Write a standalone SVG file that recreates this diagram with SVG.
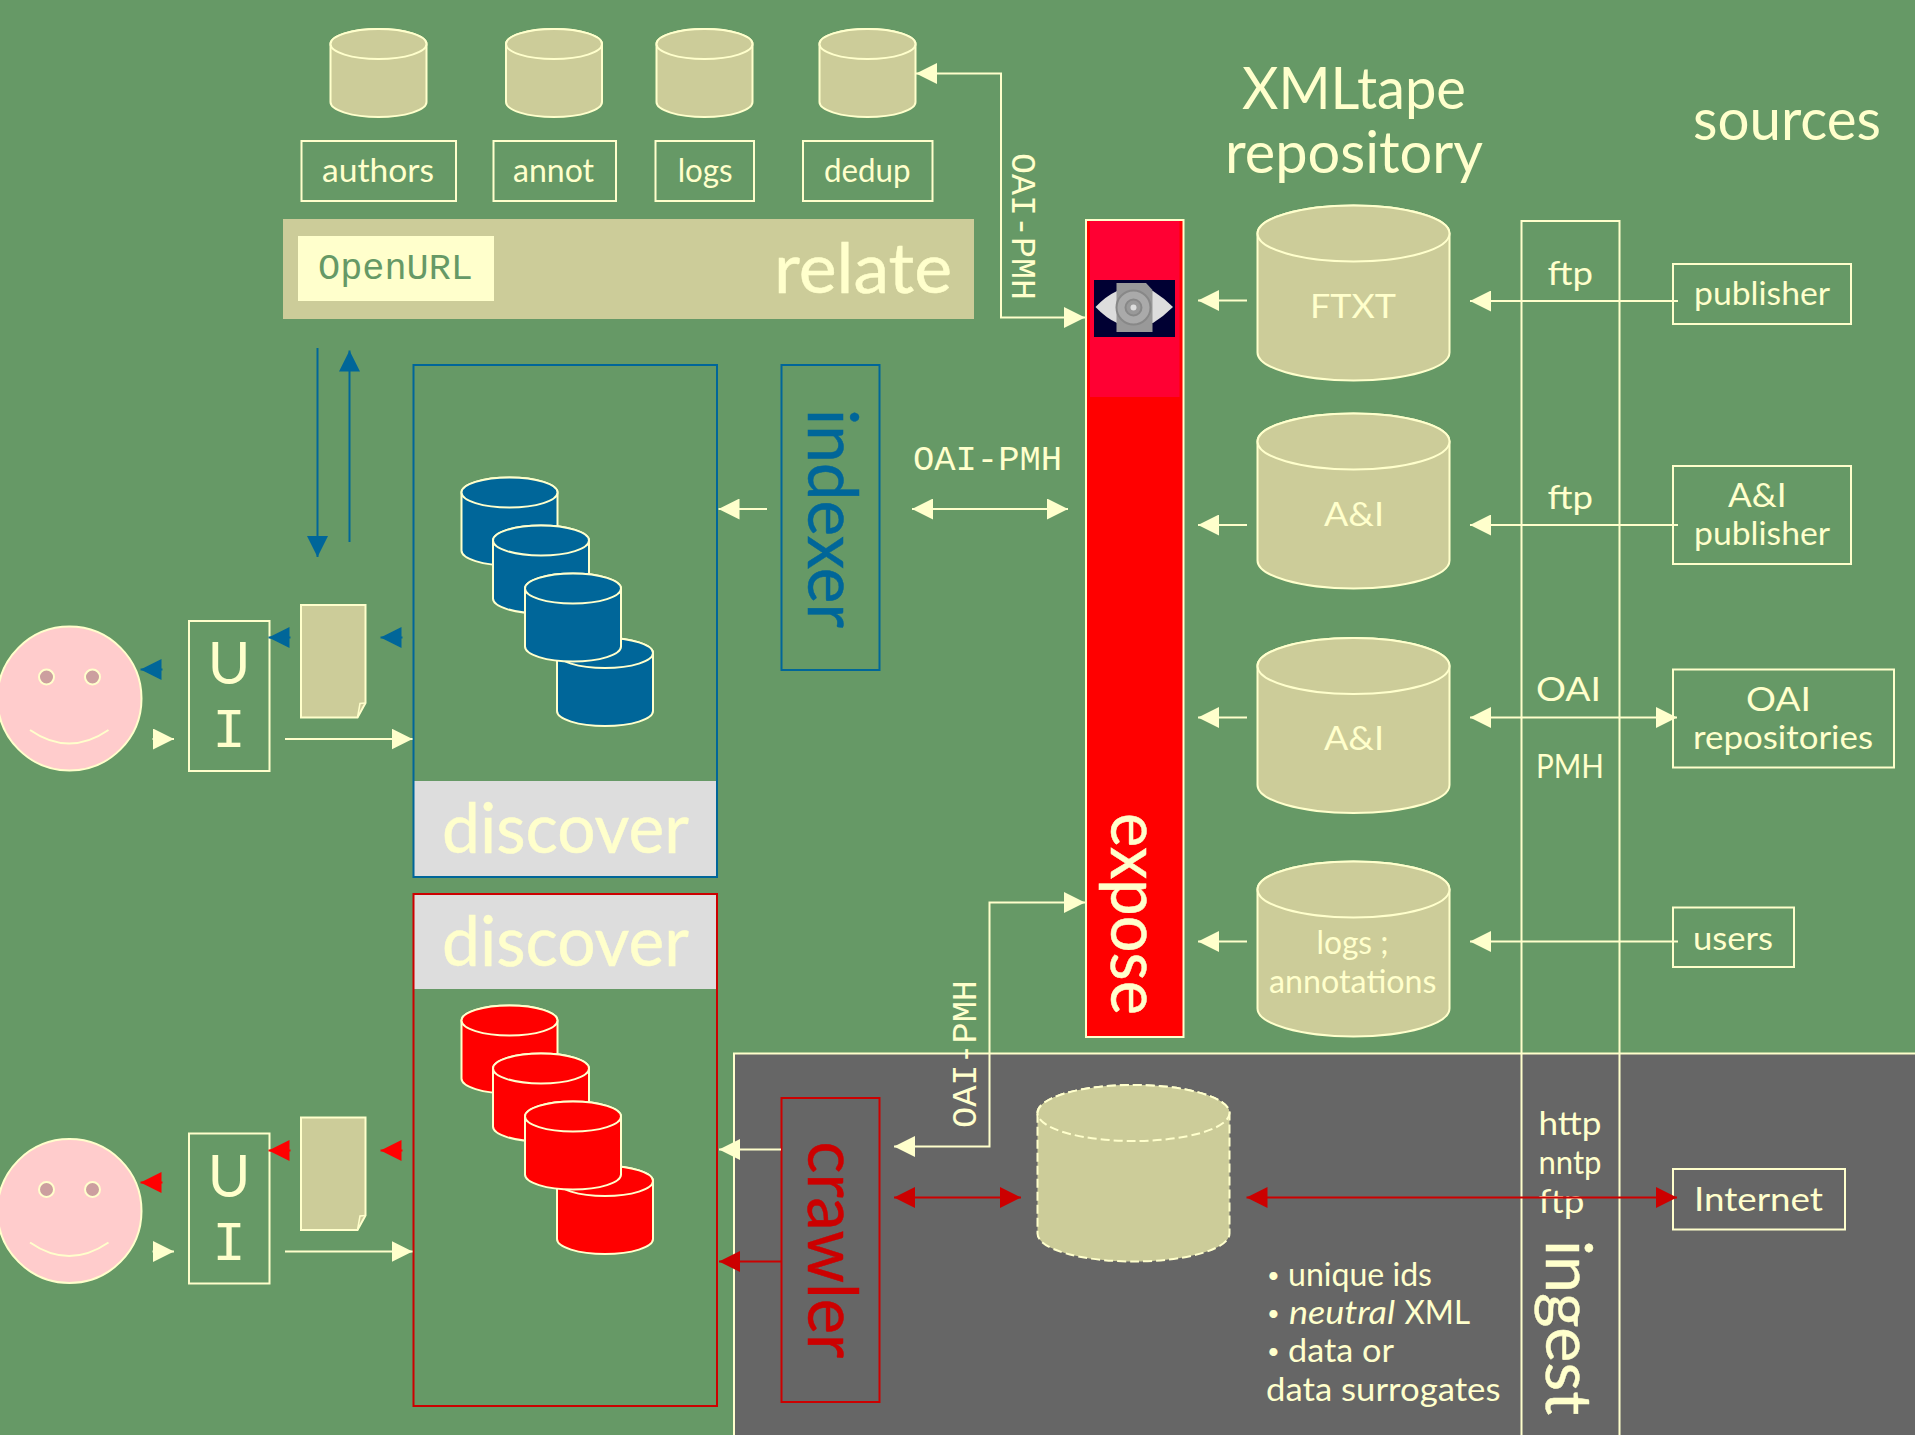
<svg xmlns="http://www.w3.org/2000/svg" xmlns:xlink="http://www.w3.org/1999/xlink" width="1915" height="1435" viewBox="0 0 1915 1435">
<style>
text{font-family:"Lato","Open Sans","DejaVu Sans",sans-serif;fill:#ffffcc}
.mono{font-family:"Liberation Mono","Courier New",monospace}
.s32{font-size:33px}.s58{font-size:58px}
.big{font-size:70px;stroke-width:.5;stroke:#ffffcc}
.bul{font-size:22px}
.box{fill:none;stroke:#ffffcc;stroke-width:2}
.cyl{stroke:#ffffcc;stroke-width:2}
.tan{fill:#cccc99}.blue{fill:#006699}.red{fill:#ff0000}
.ln{fill:none;stroke:#ffffcc;stroke-width:2}
.a{marker-end:url(#ac)}.d{marker-start:url(#ac);marker-end:url(#ac)}
.lb{fill:none;stroke:#006699;stroke-width:2;marker-end:url(#ab)}
.lr{fill:none;stroke:#cc0000;stroke-width:2;marker-end:url(#ar)}
.dr{fill:none;stroke:#cc0000;stroke-width:2;marker-start:url(#ar);marker-end:url(#ar)}
.lrr{fill:none;stroke:#ff0000;stroke-width:2;marker-end:url(#ar2)}
</style>
<defs>
<marker id="ac" viewBox="0 0 21 21" refX="21" refY="10.500" markerWidth="21" markerHeight="21" markerUnits="userSpaceOnUse" orient="auto-start-reverse"><path d="M0 0L21 10.500L0 21Z" fill="#ffffcc"/></marker>
<marker id="ab" viewBox="0 0 21 21" refX="21" refY="10.500" markerWidth="21" markerHeight="21" markerUnits="userSpaceOnUse" orient="auto-start-reverse"><path d="M0 0L21 10.500L0 21Z" fill="#006699"/></marker>
<marker id="ar" viewBox="0 0 21 21" refX="21" refY="10.500" markerWidth="21" markerHeight="21" markerUnits="userSpaceOnUse" orient="auto-start-reverse"><path d="M0 0L21 10.500L0 21Z" fill="#cc0000"/></marker>
<marker id="ar2" viewBox="0 0 21 21" refX="21" refY="10.500" markerWidth="21" markerHeight="21" markerUnits="userSpaceOnUse" orient="auto-start-reverse"><path d="M0 0L21 10.500L0 21Z" fill="#ff0000"/></marker>
<g id="cs"><path d="M0 15A48 15 0 0 1 96 15V73A48 15 0 0 1 0 73Z"/><path d="M0 15A48 15 0 0 1 96 15A48 15 0 0 1 0 15Z"/></g>
<g id="cb"><path d="M0 28A96 28 0 0 1 192 28V147A96 28 0 0 1 0 147Z"/><path d="M0 28A96 28 0 0 1 192 28A96 28 0 0 1 0 28Z"/></g>
</defs>
<rect id="background" width="1915" height="1435" fill="#669966"/>
<g id="ingest-panel"><rect x="734" y="1053.500" width="1190" height="400" fill="#666666" stroke="#ffffcc" stroke-width="2"/></g>

<g id="db-authors"><use href="#cs" x="330.500" y="29" class="cyl tan"/></g>
<g id="db-annot"><use href="#cs" x="506" y="29" class="cyl tan"/></g>
<g id="db-logs"><use href="#cs" x="656.500" y="29" class="cyl tan"/></g>
<g id="db-dedup"><use href="#cs" x="819.500" y="29" class="cyl tan"/></g>
<g id="label-authors"><rect x="301.500" y="141" width="154.500" height="60" class="box"/><text x="322" y="182" class="s32" textLength="112" lengthAdjust="spacingAndGlyphs">authors</text></g>
<g id="label-annot"><rect x="493.500" y="141" width="122.500" height="60" class="box"/><text x="513" y="182" class="s32" textLength="81" lengthAdjust="spacingAndGlyphs">annot</text></g>
<g id="label-logs"><rect x="655.500" y="141" width="98.500" height="60" class="box"/><text x="677.700" y="182" class="s32" textLength="55" lengthAdjust="spacingAndGlyphs">logs</text></g>
<g id="label-dedup"><rect x="803" y="141" width="129.500" height="60" class="box"/><text x="824" y="182" class="s32" textLength="86.500" lengthAdjust="spacingAndGlyphs">dedup</text></g>

<g id="relate"><rect x="283" y="219" width="691" height="100" fill="#cccc99"/><rect x="298" y="236" width="196" height="65" fill="#ffffcc"/>
<text x="318" y="279" class="mono" font-size="36" style="fill:#669966" textLength="155" lengthAdjust="spacingAndGlyphs">OpenURL</text>
<text x="774" y="293" class="big" textLength="178" lengthAdjust="spacingAndGlyphs">relate</text></g>

<g id="discover-blue"><rect x="413.500" y="781" width="303" height="96" fill="#dddddd"/><rect x="413.500" y="365" width="303.500" height="512" fill="none" stroke="#006699" stroke-width="2"/>
<text x="442" y="853" class="big" textLength="247" lengthAdjust="spacingAndGlyphs">discover</text>
<use href="#cs" x="557" y="638" class="cyl blue"/><use href="#cs" x="461.500" y="477.500" class="cyl blue"/><use href="#cs" x="493" y="525.500" class="cyl blue"/><use href="#cs" x="525" y="573.500" class="cyl blue"/></g>

<g id="discover-red"><rect x="413.500" y="894" width="303" height="95" fill="#dddddd"/><rect x="413.500" y="894" width="303.500" height="512" fill="none" stroke="#cc0000" stroke-width="2"/>
<text x="442" y="966" class="big" textLength="247" lengthAdjust="spacingAndGlyphs">discover</text>
<use href="#cs" x="557" y="1166" class="cyl red"/><use href="#cs" x="461.500" y="1005.500" class="cyl red"/><use href="#cs" x="493" y="1053.500" class="cyl red"/><use href="#cs" x="525" y="1101.500" class="cyl red"/></g>

<g id="indexer"><rect x="781.500" y="365" width="98" height="305" fill="none" stroke="#006699" stroke-width="2"/>
<text transform="translate(808 409) rotate(90)" class="big" style="fill:#006699;stroke:#006699" textLength="219" lengthAdjust="spacingAndGlyphs">indexer</text></g>
<g id="crawler"><rect x="781.500" y="1098" width="98" height="304" fill="none" stroke="#cc0000" stroke-width="2"/>
<text transform="translate(808 1141.500) rotate(90)" class="big" style="fill:#cc0000;stroke:#cc0000" textLength="217" lengthAdjust="spacingAndGlyphs">crawler</text></g>

<g id="user-1"><circle cx="69.500" cy="698.500" r="72" fill="#ffcccc" stroke="#ffffcc" stroke-width="2"/><circle cx="46.500" cy="677" r="7.500" fill="#cc9f9f" stroke="#ffffcc" stroke-width="2"/><circle cx="92.500" cy="677" r="7.500" fill="#cc9f9f" stroke="#ffffcc" stroke-width="2"/><path d="M30 730Q69 757 108.500 730" class="ln"/></g>
<g id="ui-1"><rect x="189" y="621" width="80.500" height="150" class="box"/><text x="229" y="684" text-anchor="middle" class="s58">U</text><text x="229" y="747" text-anchor="middle" class="mono" font-size="56">I</text></g>
<g id="doc-1"><path d="M301 605H365.500V703L357.500 717.500H301Z" fill="#cccc99" stroke="#ffffcc" stroke-width="2"/><path d="M357.500 717.500L360 703.500L365.500 703" fill="none" stroke="#ffffcc" stroke-width="1.500"/></g>
<g id="user-2"><circle cx="69.500" cy="1211" r="72" fill="#ffcccc" stroke="#ffffcc" stroke-width="2"/><circle cx="46.500" cy="1189.500" r="7.500" fill="#cc9f9f" stroke="#ffffcc" stroke-width="2"/><circle cx="92.500" cy="1189.500" r="7.500" fill="#cc9f9f" stroke="#ffffcc" stroke-width="2"/><path d="M30 1242.500Q69 1269.500 108.500 1242.500" class="ln"/></g>
<g id="ui-2"><rect x="189" y="1133.500" width="80.500" height="150" class="box"/><text x="229" y="1197" text-anchor="middle" class="s58">U</text><text x="229" y="1260" text-anchor="middle" class="mono" font-size="56">I</text></g>
<g id="doc-2"><path d="M301 1117.500H365.500V1215.500L357.500 1230H301Z" fill="#cccc99" stroke="#ffffcc" stroke-width="2"/><path d="M357.500 1230L360 1216L365.500 1215.500" fill="none" stroke="#ffffcc" stroke-width="1.500"/></g>

<g id="expose"><rect x="1086" y="220" width="97.500" height="817" fill="#ff0000" stroke="#ffffcc" stroke-width="2"/><rect x="1090" y="221" width="89.500" height="176" fill="#ff0033"/>
<rect x="1094" y="280" width="81" height="57" fill="#000033"/><path d="M1095.500 307Q1106 296 1117 291H1153Q1164 298 1173 307Q1164 316 1153 323H1117Q1106 318 1095.500 307Z" fill="#dddddd"/><path d="M1116.500 283H1146L1152.500 290V332H1116.500Z" fill="#999999"/><circle cx="1133.500" cy="307.500" r="17" fill="#aaaaaa" stroke="#888888" stroke-width="2"/><circle cx="1133.500" cy="307.500" r="8" fill="#999999" stroke="#888888" stroke-width="2"/><circle cx="1133.500" cy="307.500" r="3" fill="#dddddd"/>
<text transform="translate(1111 813) rotate(90)" class="big" textLength="202" lengthAdjust="spacingAndGlyphs">expose</text></g>

<g id="title-repository"><text x="1242" y="108.500" class="s58" textLength="224" lengthAdjust="spacingAndGlyphs">XMLtape</text><text x="1225" y="172.500" class="s58" textLength="258" lengthAdjust="spacingAndGlyphs">repository</text></g>
<g id="title-sources"><text x="1693" y="139.500" class="s58" textLength="188" lengthAdjust="spacingAndGlyphs">sources</text></g>

<g id="db-ftxt"><use href="#cb" x="1257.500" y="205.500" class="cyl tan"/><text x="1310" y="318" class="s32" textLength="86" lengthAdjust="spacingAndGlyphs">FTXT</text></g>
<g id="db-ai-1"><use href="#cb" x="1257.500" y="413.500" class="cyl tan"/><text x="1324" y="526" class="s32" textLength="60" lengthAdjust="spacingAndGlyphs">A&amp;I</text></g>
<g id="db-ai-2"><use href="#cb" x="1257.500" y="638" class="cyl tan"/><text x="1324" y="750" class="s32" textLength="60" lengthAdjust="spacingAndGlyphs">A&amp;I</text></g>
<g id="db-logs-annotations"><use href="#cb" x="1257.500" y="861.500" class="cyl tan"/><text x="1316.500" y="954" class="s32" textLength="72" lengthAdjust="spacingAndGlyphs">logs ;</text><text x="1269" y="992.500" class="s32" textLength="167.500" lengthAdjust="spacingAndGlyphs">annotations</text></g>
<g id="db-neutral"><g stroke="#ffffcc" stroke-width="2" stroke-dasharray="9 4" fill="#cccc99"><path d="M1037.500 1113A96 28 0 0 1 1229.500 1113V1233.500A96 28 0 0 1 1037.500 1233.500Z"/><path d="M1037.500 1113A96 28 0 0 1 1229.500 1113A96 28 0 0 1 1037.500 1113Z"/></g></g>

<g id="ingest"><path d="M1521.500 1435V221H1619.500V1435" class="box"/>
<text x="1547.500" y="285" class="s32" textLength="45.500" lengthAdjust="spacingAndGlyphs">ftp</text>
<text x="1547.500" y="509" class="s32" textLength="45.500" lengthAdjust="spacingAndGlyphs">ftp</text>
<text x="1536" y="701" class="s32" textLength="65" lengthAdjust="spacingAndGlyphs">OAI</text>
<text x="1536" y="778" class="s32" textLength="68" lengthAdjust="spacingAndGlyphs">PMH</text>
<text x="1538.500" y="1135" class="s32" textLength="63" lengthAdjust="spacingAndGlyphs">http</text>
<text x="1538.500" y="1174" class="s32" textLength="63" lengthAdjust="spacingAndGlyphs">nntp</text>
<text x="1538.500" y="1212.500" class="s32" textLength="46" lengthAdjust="spacingAndGlyphs">ftp</text>
<text transform="translate(1546 1240) rotate(90)" style="font-size:64px;stroke:#ffffcc;stroke-width:.4" textLength="175" lengthAdjust="spacingAndGlyphs">ingest</text></g>

<g id="source-publisher"><rect x="1673" y="264" width="178" height="60" class="box"/><text x="1694" y="305" class="s32" textLength="136" lengthAdjust="spacingAndGlyphs">publisher</text></g>
<g id="source-ai-publisher"><rect x="1673" y="466" width="178" height="98" class="box"/><text x="1728" y="506.500" class="s32" textLength="58.500" lengthAdjust="spacingAndGlyphs">A&amp;I</text><text x="1694" y="544.500" class="s32" textLength="136" lengthAdjust="spacingAndGlyphs">publisher</text></g>
<g id="source-oai"><rect x="1673" y="669.500" width="221" height="98" class="box"/><text x="1746" y="711" class="s32" textLength="65" lengthAdjust="spacingAndGlyphs">OAI</text><text x="1693" y="749" class="s32" textLength="180" lengthAdjust="spacingAndGlyphs">repositories</text></g>
<g id="source-users"><rect x="1673" y="907.500" width="121" height="59.500" class="box"/><text x="1693" y="950" class="s32" textLength="80" lengthAdjust="spacingAndGlyphs">users</text></g>
<g id="source-internet"><rect x="1673" y="1169" width="172" height="60.500" class="box"/><text x="1694" y="1210.500" class="s32" textLength="129" lengthAdjust="spacingAndGlyphs">Internet</text></g>

<g id="notes">
<text x="1267" y="1283" class="bul">•</text><text x="1288" y="1286" class="s32" textLength="144" lengthAdjust="spacingAndGlyphs">unique ids</text>
<text x="1267" y="1321" class="bul">•</text><text x="1289" y="1324" class="s32" font-style="italic" textLength="106" lengthAdjust="spacingAndGlyphs">neutral</text><text x="1404.500" y="1324" class="s32" textLength="65.500" lengthAdjust="spacingAndGlyphs">XML</text>
<text x="1267" y="1359" class="bul">•</text><text x="1288" y="1362" class="s32" textLength="106" lengthAdjust="spacingAndGlyphs">data or</text>
<text x="1266" y="1400.500" class="s32" textLength="234.500" lengthAdjust="spacingAndGlyphs">data surrogates</text>
</g>

<g id="protocol-labels">
<text transform="translate(1012 153) rotate(90)" class="mono" font-size="35" textLength="147" lengthAdjust="spacingAndGlyphs">OAI-PMH</text>
<text x="913" y="470" class="mono" font-size="35" textLength="149" lengthAdjust="spacingAndGlyphs">OAI-PMH</text>
<text transform="translate(976 1128) rotate(-90)" class="mono" font-size="35" textLength="148" lengthAdjust="spacingAndGlyphs">OAI-PMH</text>
</g>

<g id="connectors">
<path d="M1085 317.500H1001V73.500H916" class="ln d"/>
<path d="M317.500 348V557" class="lb"/>
<path d="M349.500 542V350.500" class="lb"/>
<path d="M162.500 669.500H140.500" class="lb"/>
<path d="M290.500 637.500H268.500" class="lb"/>
<path d="M402.500 637.500H380.500" class="lb"/>
<path d="M152.500 739H174" class="ln a"/>
<path d="M285 739H412.500" class="ln a"/>
<path d="M162.500 1182.500H140.500" class="lrr"/>
<path d="M290.500 1150.500H268.500" class="lrr"/>
<path d="M402.500 1150.500H380.500" class="lrr"/>
<path d="M152.500 1251.500H174" class="ln a"/>
<path d="M285 1251.500H412.500" class="ln a"/>
<path d="M767 509H718.500" class="ln a"/>
<path d="M912 509H1068" class="ln d"/>
<path d="M1247 300.500H1198" class="ln a"/>
<path d="M1247 525H1198" class="ln a"/>
<path d="M1247 717.500H1198" class="ln a"/>
<path d="M1247 941.500H1198" class="ln a"/>
<path d="M1678 301H1470" class="ln a"/>
<path d="M1678 525H1470" class="ln a"/>
<path d="M1470 717.500H1677" class="ln d"/>
<path d="M1678 941.500H1470" class="ln a"/>
<path d="M781 1149.500H719" class="ln a"/>
<path d="M781 1261.500H719" class="lr"/>
<path d="M894 1146.500H989.500V902.500H1085" class="ln d"/>
<path d="M894 1197.500H1021" class="dr"/>
<path d="M1246.500 1197.500H1677" class="dr"/>
</g>
</svg>
